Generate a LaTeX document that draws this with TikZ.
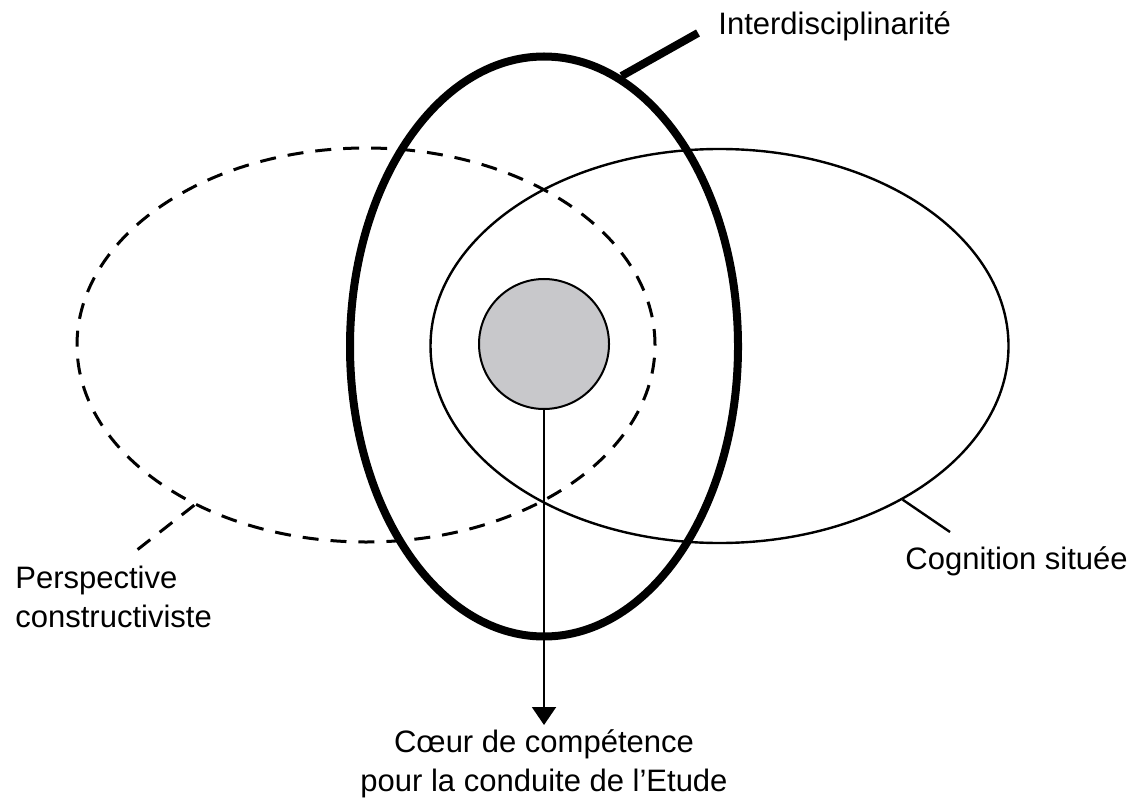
\documentclass[tikz,border=0pt]{standalone}
\usepackage{fontspec}
\setmainfont{Liberation Sans}
\usetikzlibrary{arrows.meta,positioning,shapes.geometric,calc}
\definecolor{coregray}{HTML}{C8C8CB}

\begin{document}
\begin{tikzpicture}[x=0.5pt,y=-0.5pt,font=\fontsize{15.5}{19.5}\selectfont,>={Triangle[length=9pt,width=12pt]}]
  \tikzset{field/.style={ellipse,draw,inner sep=0pt,minimum width=289pt,minimum height=197pt},
    label/.style={inner sep=0pt,align=left}}
  \useasboundingbox (0,0) rectangle (1143,807);
  \node[field,dash pattern=on 8pt off 6pt,line width=1.5pt] (constructive) at (366,345) {};
  \node[field,line width=1.2pt] (situated) at (719.5,346) {};
  \node[field,line width=4pt,minimum width=194pt,minimum height=290pt] (interdisc) at (544,346.5) {};
  \node[circle,draw,fill=coregray,line width=1pt,minimum size=65pt,inner sep=0pt] (core) at (544,344) {};
  % labels
  \node[label,anchor=base west] (interText) at (718,35) {Interdisciplinarité};
  \node[label,anchor=north west] (constrText) at (15,566) {Perspective\\constructiviste};
  \node[label,anchor=base west] (situText) at (905,569) {Cognition située};
  \node[label,align=center,anchor=north,inner sep=2pt] (coreText) at (544,725) {Cœur de compétence\\pour la conduite de l'Etude};
  \coordinate (interEnd) at (698,33);
  \coordinate (constrEnd) at (137,550);
  \coordinate (situEnd) at (950,532);
  % leaders
  \draw[line width=4pt] (interdisc.74) -- (interEnd);
  \draw[line width=1.5pt,dash pattern=on 8pt off 6pt] (constructive.223) -- (constrEnd);
  \draw[line width=1.2pt] (situated.320) -- (situEnd);
  \draw[->,line width=1pt] (core.south) -- (coreText.north);
\end{tikzpicture}
\end{document}
